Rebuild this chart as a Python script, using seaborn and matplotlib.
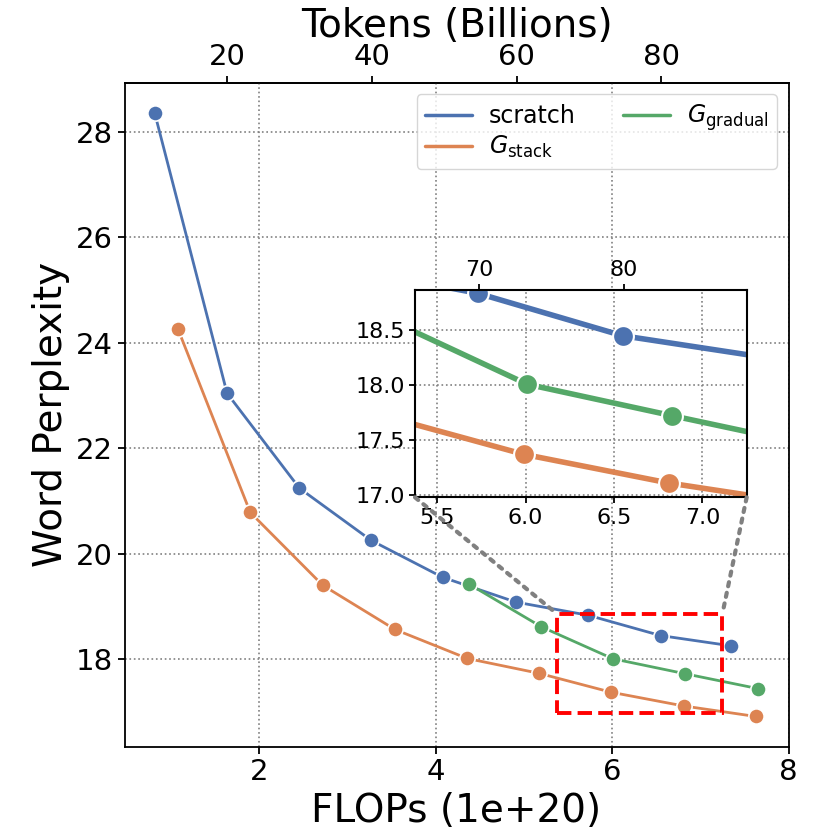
import matplotlib
matplotlib.use("Agg")
import matplotlib.pyplot as plt
from matplotlib.patches import Rectangle, ConnectionPatch
from matplotlib.lines import Line2D
import seaborn as sns
import pandas as pd

# ---- data ----
scratch_flops = [0.816, 1.637, 2.457, 3.27, 4.08, 4.91, 5.73, 6.55, 7.35]
scratch_ppl = [28.36, 23.04, 21.24, 20.25, 19.55, 19.08, 18.83, 18.445, 18.25]
stack_flops = [1.08, 1.90, 2.72, 3.54, 4.36, 5.17, 5.99, 6.81, 7.63]
stack_ppl = [24.26, 20.78, 19.40, 18.56, 18.01, 17.73, 17.37, 17.11, 16.91]
gradual_flops = [4.38, 5.20, 6.01, 6.83, 7.65]
gradual_ppl = [19.42, 18.61, 18.005, 17.72, 17.44]

series_names = ["scratch", "stack", "gradual"]
legend_labels = ["scratch", r"$G_{\mathrm{stack}}$", r"$G_{\mathrm{gradual}}$"]
tokens_per_flop = 12.2
top_ticks = [20, 40, 60, 80]
inset_top_ticks = [70, 80]
inset_xticks = [5.5, 6.0, 6.5, 7.0]
inset_yticks = [17.0, 17.5, 18.0, 18.5]
inset_xlim = (5.374, 7.251)
inset_ylim = (16.98, 18.86)

sns.set_theme(style="ticks")
plt.rcParams["font.family"] = ["DejaVu Sans"]
plt.rcParams["axes.edgecolor"] = "black"
plt.rcParams["axes.linewidth"] = 1.3
plt.rcParams["xtick.color"] = "black"
plt.rcParams["ytick.color"] = "black"
plt.rcParams["text.color"] = "black"
plt.rcParams["axes.labelcolor"] = "black"

df = pd.DataFrame({
    "flops": scratch_flops + stack_flops + gradual_flops,
    "ppl": scratch_ppl + stack_ppl + gradual_ppl,
    "method": (["scratch"] * len(scratch_flops) + ["stack"] * len(stack_flops)
               + ["gradual"] * len(gradual_flops)),
})

palette = sns.color_palette("deep")
colors = {"scratch": palette[0], "stack": palette[1], "gradual": palette[2]}

fig = plt.figure(figsize=(8.3, 8.3), dpi=100)
ax = fig.add_axes([0.15, 0.1004, 0.80, 0.80])

sns.lineplot(data=df, x="flops", y="ppl", hue="method", hue_order=series_names,
             palette=colors, marker="o", markersize=11, linewidth=2,
             markeredgecolor="white", markeredgewidth=1.2, legend=False, ax=ax)

ax.grid(True, linestyle=":", color="gray", linewidth=1.2)
ax.set_xlabel("FLOPs (1e+20)", fontsize=28, labelpad=4)
ax.set_ylabel("Word Perplexity", fontsize=28)
ax.set_xticks([2, 4, 6, 8])
ax.set_yticks([18, 20, 22, 24, 26, 28])
ax.tick_params(labelsize=21, width=1.3, length=5)

top = ax.secondary_xaxis("top", functions=(lambda x: x * tokens_per_flop,
                                           lambda t: t / tokens_per_flop))
top.set_xticks(top_ticks)
top.tick_params(labelsize=21, width=1.3, length=5)
top.set_xlabel("Tokens (Billions)", fontsize=28)

handles = [Line2D([0], [0], color=colors[n], lw=2.5) for n in series_names]
leg = ax.legend(handles, legend_labels, loc="upper right", ncol=2, fontsize=17,
                frameon=True, borderaxespad=0.5, columnspacing=2.0,
                labelspacing=0.25, borderpad=0.35, handletextpad=0.7)
leg.get_frame().set_edgecolor("#cccccc")

# ---- inset ----
axins = fig.add_axes([0.5, 0.4008, 0.3996, 0.2498])
axins.set_facecolor("white")
sns.lineplot(data=df, x="flops", y="ppl", hue="method", hue_order=series_names,
             palette=colors, marker="o", markersize=15, linewidth=4,
             markeredgecolor="white", markeredgewidth=1.5, legend=False, ax=axins)
axins.set_xlim(*inset_xlim)
axins.set_ylim(*inset_ylim)
axins.set_xticks(inset_xticks)
axins.set_yticks(inset_yticks)
axins.set_xticklabels([f"{v:.1f}" for v in inset_xticks])
axins.set_yticklabels([f"{v:.1f}" for v in inset_yticks])
axins.set_xlabel("")
axins.set_ylabel("")
axins.grid(True, linestyle=":", color="gray", linewidth=1.2)
axins.tick_params(labelsize=16, width=1.3, length=4)
for s in axins.spines.values():
    s.set_linewidth(1.5)
itop = axins.secondary_xaxis("top", functions=(lambda x: x * tokens_per_flop,
                                               lambda t: t / tokens_per_flop))
itop.set_xticks(inset_top_ticks)
itop.tick_params(labelsize=16, width=1.3, length=4)

rect = Rectangle((inset_xlim[0], inset_ylim[0]), inset_xlim[1] - inset_xlim[0],
                 inset_ylim[1] - inset_ylim[0], fill=False, edgecolor="red",
                 linestyle="--", linewidth=2.8, zorder=5)
ax.add_patch(rect)

for xi in (0, 1):
    cp = ConnectionPatch(xyA=(inset_xlim[xi], inset_ylim[0]), coordsA=axins.transData,
                         xyB=(inset_xlim[xi], inset_ylim[1]), coordsB=ax.transData,
                         color="gray", linestyle=(0, (1, 1.6)), linewidth=3, zorder=4)
    fig.add_artist(cp)

fig.savefig("out.png", dpi=100)
